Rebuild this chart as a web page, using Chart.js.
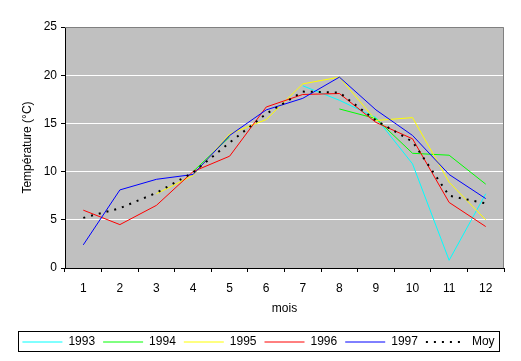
<!DOCTYPE html>
<html>
<head>
<meta charset="utf-8">
<script src="https://cdn.jsdelivr.net/npm/chart.js@4"></script>
<style>
  html, body { margin: 0; padding: 0; background: #fff; }
  canvas { display: block; }
</style>
</head>
<body>
<canvas id="chart" width="521" height="361"></canvas>
<script>
const months = ["1", "2", "3", "4", "5", "6", "7", "8", "9", "10", "11", "12"];
const t1993 = [null, null, null, null, null, null, 18.9, 17.4, 15.6, 10.8, 0.8, 7.7];
const t1994 = [null, null, null, 10.0, 13.6, null, null, 16.5, 15.5, 11.9, 11.7, 8.7];
const t1995 = [null, null, 7.7, 9.6, 13.9, 15.4, 19.1, 19.8, 15.3, 15.6, 8.9, 5.0];
const t1996 = [6.0, 4.5, 6.5, 10.0, 11.6, 16.7, 18.0, 18.1, 15.1, 13.4, 6.8, 4.3];
const t1997 = [2.4, 8.1, 9.2, 9.7, 13.75, 16.4, 17.6, 19.8, 16.4, 13.75, 9.7, 7.2];
const moy = [5.2, 6.2, 7.8, 9.9, 13.0, 16.0, 18.3, 18.2, 15.3, 13.1, 7.5, 6.7];

const seriesNames = ["1993", "1994", "1995", "1996", "1997", "Moy"];
const seriesData = [t1993, t1994, t1995, t1996, t1997, moy];
const seriesColors = ["#00ffff", "#00ff00", "#ffff00", "#ff0000", "#0000ff", "#000000"];

Chart.defaults.font.family = "'Liberation Sans', Arial, sans-serif";
Chart.defaults.font.size = 12;
Chart.defaults.color = "#000";

const baseLabels = Chart.defaults.plugins.legend.labels.generateLabels;

// gray plot area, gray top/right frame, box around the legend
const excelLook = {
    id: "excelLook",
    afterLayout(chart) {
        chart.legend.left = 0;
        chart.legend.right = 517;
    },
    beforeDraw(chart) {
        const { ctx, chartArea: a } = chart;
        ctx.save();
        ctx.fillStyle = "#c0c0c0";
        ctx.fillRect(a.left, a.top, a.right - a.left, a.bottom - a.top);
        ctx.restore();
    },
    beforeDatasetsDraw(chart) {
        const { ctx, chartArea: a } = chart;
        ctx.save();
        ctx.strokeStyle = "#808080";
        ctx.lineWidth = 1;
        ctx.beginPath();
        ctx.moveTo(a.left, a.top + 0.5);
        ctx.lineTo(a.right - 0.5, a.top + 0.5);
        ctx.lineTo(a.right - 0.5, a.bottom);
        ctx.stroke();
        ctx.restore();
    },
    afterDraw(chart) {
        const boxes = chart.legend.legendHitBoxes;
        if (!boxes || !boxes.length) return;
        const first = boxes[0];
        const last = boxes[boxes.length - 1];
        const { ctx } = chart;
        ctx.save();
        ctx.strokeStyle = "#000";
        ctx.lineWidth = 1;
        ctx.strokeRect(Math.round(first.left) - 3.5, 331.5, Math.round(last.left + last.width - first.left) + 9, 20);
        ctx.restore();
    }
};

const datasets = seriesNames.map((name, i) => ({
    label: name,
    data: seriesData[i],
    borderColor: seriesColors[i],
    backgroundColor: seriesColors[i],
    borderWidth: name === "Moy" ? 2 : 1,
    borderDash: name === "Moy" ? [2, 6] : [],
    pointRadius: 0,
    pointHoverRadius: 0,
    tension: 0,
    fill: false,
    spanGaps: false,
    order: seriesNames.length - i,
}));

new Chart(document.getElementById("chart"), {
    type: "line",
    data: { labels: months, datasets },
    options: {
        responsive: false,
        animation: false,
        devicePixelRatio: 1,
        layout: { padding: { left: 0, right: 17, top: 27, bottom: 3 } },
        plugins: {
            tooltip: { enabled: false },
            legend: {
                position: "bottom",
                labels: {
                    usePointStyle: true,
                    pointStyle: "line",
                    pointStyleWidth: 40,
                    padding: 8,
                    color: "#000",
                    font: { size: 12 },
                    sort: (a, b) => a.datasetIndex - b.datasetIndex,
                    generateLabels: chart => baseLabels(chart).map(item => {
                        const ds = chart.data.datasets[item.datasetIndex];
                        item.lineDash = ds.borderDash;
                        item.lineWidth = ds.borderWidth;
                        item.strokeStyle = ds.borderColor;
                        return item;
                    }),
                },
            },
        },
        scales: {
            x: {
                offset: true,
                grid: {
                    offset: true,
                    drawOnChartArea: false,
                    tickLength: 4,
                    tickColor: "#000",
                },
                border: { color: "#000" },
                ticks: { padding: 9, maxRotation: 0, autoSkip: false },
                title: { display: true, text: "mois", padding: { top: 0, bottom: 12 } },
                afterFit(scale) { scale.height = 60; },
            },
            y: {
                min: 0,
                max: 25,
                ticks: { stepSize: 5, padding: 4 },
                grid: {
                    color: ctx => (ctx.tick && (ctx.tick.value === 0 || ctx.tick.value === 25)) ? "rgba(0,0,0,0)" : "#ffffff",
                    tickColor: "#000",
                    tickLength: 4,
                },
                border: { color: "#000" },
                title: { display: true, text: "Température (°C)", padding: { top: 20, bottom: 0 } },
                afterFit(scale) { scale.width = 65; },
            },
        },
    },
    plugins: [excelLook],
});
</script>
</body>
</html>
